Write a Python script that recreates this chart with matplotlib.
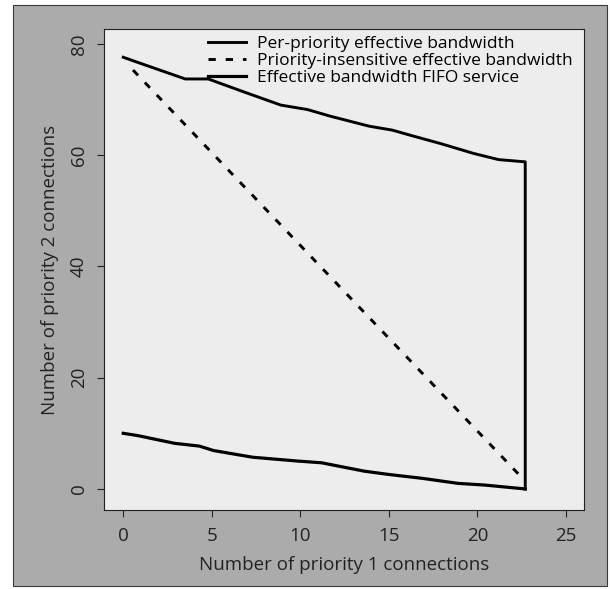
import matplotlib
matplotlib.use("Agg")
import matplotlib.pyplot as plt
from matplotlib.patches import Rectangle

plt.rcParams["font.family"] = ["Open Sans", "DejaVu Sans"]

# per-priority effective bandwidth boundary (upper curve + priority 1 limit)
per_priority_x = [0, 0.8, 3.5, 4.8, 6.7, 8.9, 10.4, 11.7, 13.9, 15.2, 16.3, 17.9, 19.8, 21.2, 22.7, 22.7]
per_priority_y = [77.6, 76.7, 73.7, 73.7, 71.5, 69.0, 68.2, 67.0, 65.2, 64.5, 63.5, 62.1, 60.3, 59.2, 58.8, 0.0]

# priority-insensitive effective bandwidth (straight line)
insensitive_x = [0.55, 22.4]
insensitive_y = [75.3, 2.4]

# effective bandwidth with FIFO service
fifo_x = [0, 0.8, 2.9, 4.3, 5.1, 7.3, 9.9, 11.2, 13.6, 15.0, 16.9, 18.9, 20.4, 22.7]
fifo_y = [10.0, 9.6, 8.2, 7.7, 6.9, 5.7, 5.0, 4.7, 3.2, 2.6, 1.9, 1.0, 0.7, 0.0]

x_ticks = [0, 5, 10, 15, 20, 25]
y_ticks = [0, 20, 40, 60, 80]

fig = plt.figure(figsize=(6.10, 5.89), dpi=100, facecolor="white")
fig.patches.append(
    Rectangle((0.021, 0.005), 0.974, 0.987, transform=fig.transFigure,
              facecolor="#ababab", edgecolor="#3a3a3a", linewidth=0.8, zorder=-1)
)

ax = fig.add_axes([0.171, 0.134, 0.787, 0.816], zorder=2)
ax.set_facecolor("#ededed")

ax.plot(per_priority_x, per_priority_y, color="black", linewidth=2.1,
        label="Per-priority effective bandwidth")
ax.plot(insensitive_x, insensitive_y, color="black", linewidth=2.1,
        dashes=(2.5, 3.4), label="Priority-insensitive effective bandwidth")
ax.plot(fifo_x, fifo_y, color="black", linewidth=2.3,
        label="Effective bandwidth FIFO service")

ax.set_xlim(-1.07, 26.04)
ax.set_ylim(-3.8, 82.6)
ax.set_xticks(x_ticks)
ax.set_yticks(y_ticks)
ax.set_yticklabels([str(v) for v in y_ticks], rotation=90, va="center")
ax.tick_params(direction="out", length=5, width=0.8, labelsize=13.5, pad=7,
               color="#222222", labelcolor="#222222")
for spine in ax.spines.values():
    spine.set_linewidth(0.8)
    spine.set_color("#222222")

ax.set_xlabel("Number of priority 1 connections", fontsize=13.5, labelpad=8, color="#222222")
ax.set_ylabel("Number of priority 2 connections", fontsize=13.5, labelpad=8, color="#222222")

ax.legend(loc="upper left", bbox_to_anchor=(0.212, 0.99), frameon=False,
          fontsize=12.5, handlelength=2.2, handletextpad=0.65, labelspacing=0.05,
          borderpad=0.1, borderaxespad=0.0)

fig.savefig("out.png", dpi=100)
